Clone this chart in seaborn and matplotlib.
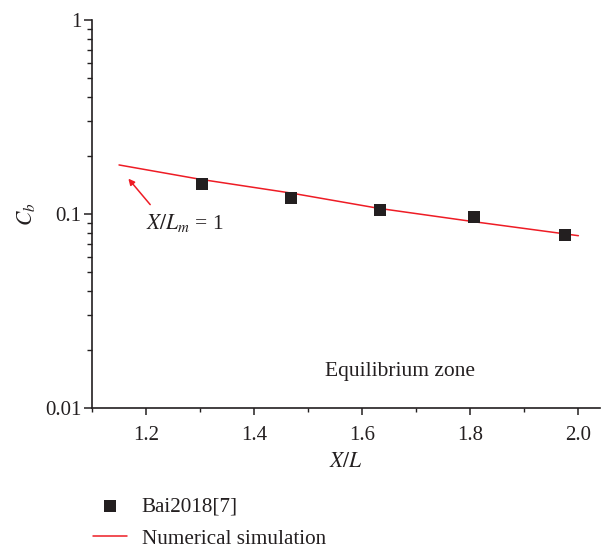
import numpy as np
import pandas as pd
import matplotlib
matplotlib.use("Agg")
import matplotlib.pyplot as plt
import seaborn as sns
from matplotlib.ticker import LogLocator, MultipleLocator, NullFormatter

# Data
exp_x = [1.303, 1.468, 1.632, 1.806, 1.976]
exp_y = [0.143, 0.1205, 0.105, 0.0962, 0.0776]
sim_x = [1.15, 1.30, 1.47, 1.63, 1.81, 2.00]
sim_y = [0.179, 0.151, 0.128, 0.107, 0.091, 0.0773]
x_ticks = [1.2, 1.4, 1.6, 1.8, 2.0]
y_ticks = [0.01, 0.1, 1]
y_tick_labels = ["0.01", "0.1", "1"]

sns.set_theme(style="ticks")
plt.rcParams['font.family'] = ['Liberation Serif', 'DejaVu Serif']
plt.rcParams['mathtext.fontset'] = 'stix'

INK = "#231f20"
RED = "#ee1c25"

fig = plt.figure(figsize=(6.11, 5.5), dpi=100)
ax = fig.add_axes([92/611, 1 - 408/550, (600-92)/611, (408-20)/550])

df_exp = pd.DataFrame({"x": exp_x, "y": exp_y})
df_sim = pd.DataFrame({"x": sim_x, "y": sim_y})

sns.lineplot(data=df_sim, x="x", y="y", ax=ax, color=RED, linewidth=1.1,
             label="Numerical simulation", legend=False)
sns.scatterplot(data=df_exp, x="x", y="y", ax=ax, marker="s", s=75, color=INK,
                edgecolor=INK, linewidth=0, label="Bai2018[7]", legend=False, zorder=3)

ax.set_yscale("log")
ax.set_xlim(1.1, 2.04)
ax.set_ylim(0.01, 1)
ax.set_xticks(x_ticks)
ax.set_xticklabels([f"{v:.1f}" for v in x_ticks])
ax.xaxis.set_minor_locator(MultipleLocator(0.1))
ax.set_yticks(y_ticks)
ax.set_yticklabels(y_tick_labels)
ax.yaxis.set_minor_locator(LogLocator(base=10, subs=np.arange(2, 10)))
ax.yaxis.set_minor_formatter(NullFormatter())

for s in ["top", "right"]:
    ax.spines[s].set_visible(False)
for s in ["left", "bottom"]:
    ax.spines[s].set_color(INK)
    ax.spines[s].set_linewidth(1.2)

ax.tick_params(axis="x", which="major", direction="out", length=4.7, width=1.1,
               labelsize=15, colors=INK, labelcolor=INK, pad=8)
ax.tick_params(axis="x", which="minor", direction="out", length=3, width=1.0, colors=INK)
ax.tick_params(axis="y", which="major", direction="out", length=6, width=1.1,
               labelsize=15, colors=INK, labelcolor=INK, pad=1.5)
ax.tick_params(axis="y", which="minor", direction="out", length=3.8, width=1.0, colors=INK)

ax.set_xlabel("$X/L$", fontsize=15.5, color=INK, labelpad=6)
ax.set_ylabel("$C_b$", fontsize=15.5, color=INK, labelpad=6)

ax.annotate("", xy=(1.164, 0.156), xytext=(1.211, 0.109),
            arrowprops=dict(arrowstyle="-|>", color=RED, lw=1.1, mutation_scale=9))
ax.text(1.199, 0.0895, "$X/L_m$ = 1", fontsize=15.5, color=INK, va="center", ha="left")
ax.text(1.67, 0.0155, "Equilibrium zone", fontsize=15.5, color=INK, va="center", ha="center")

handles, labels = ax.get_legend_handles_labels()
order = [labels.index("Bai2018[7]"), labels.index("Numerical simulation")]
fig.legend([handles[i] for i in order], [labels[i] for i in order],
           loc="upper left", bbox_to_anchor=(93/611, 1 - 497/550), frameon=False,
           fontsize=15.2, labelcolor=INK, handlelength=1.6, handletextpad=0.7,
           labelspacing=0.58, borderaxespad=0, borderpad=0)

fig.savefig("out.png", dpi=100)
